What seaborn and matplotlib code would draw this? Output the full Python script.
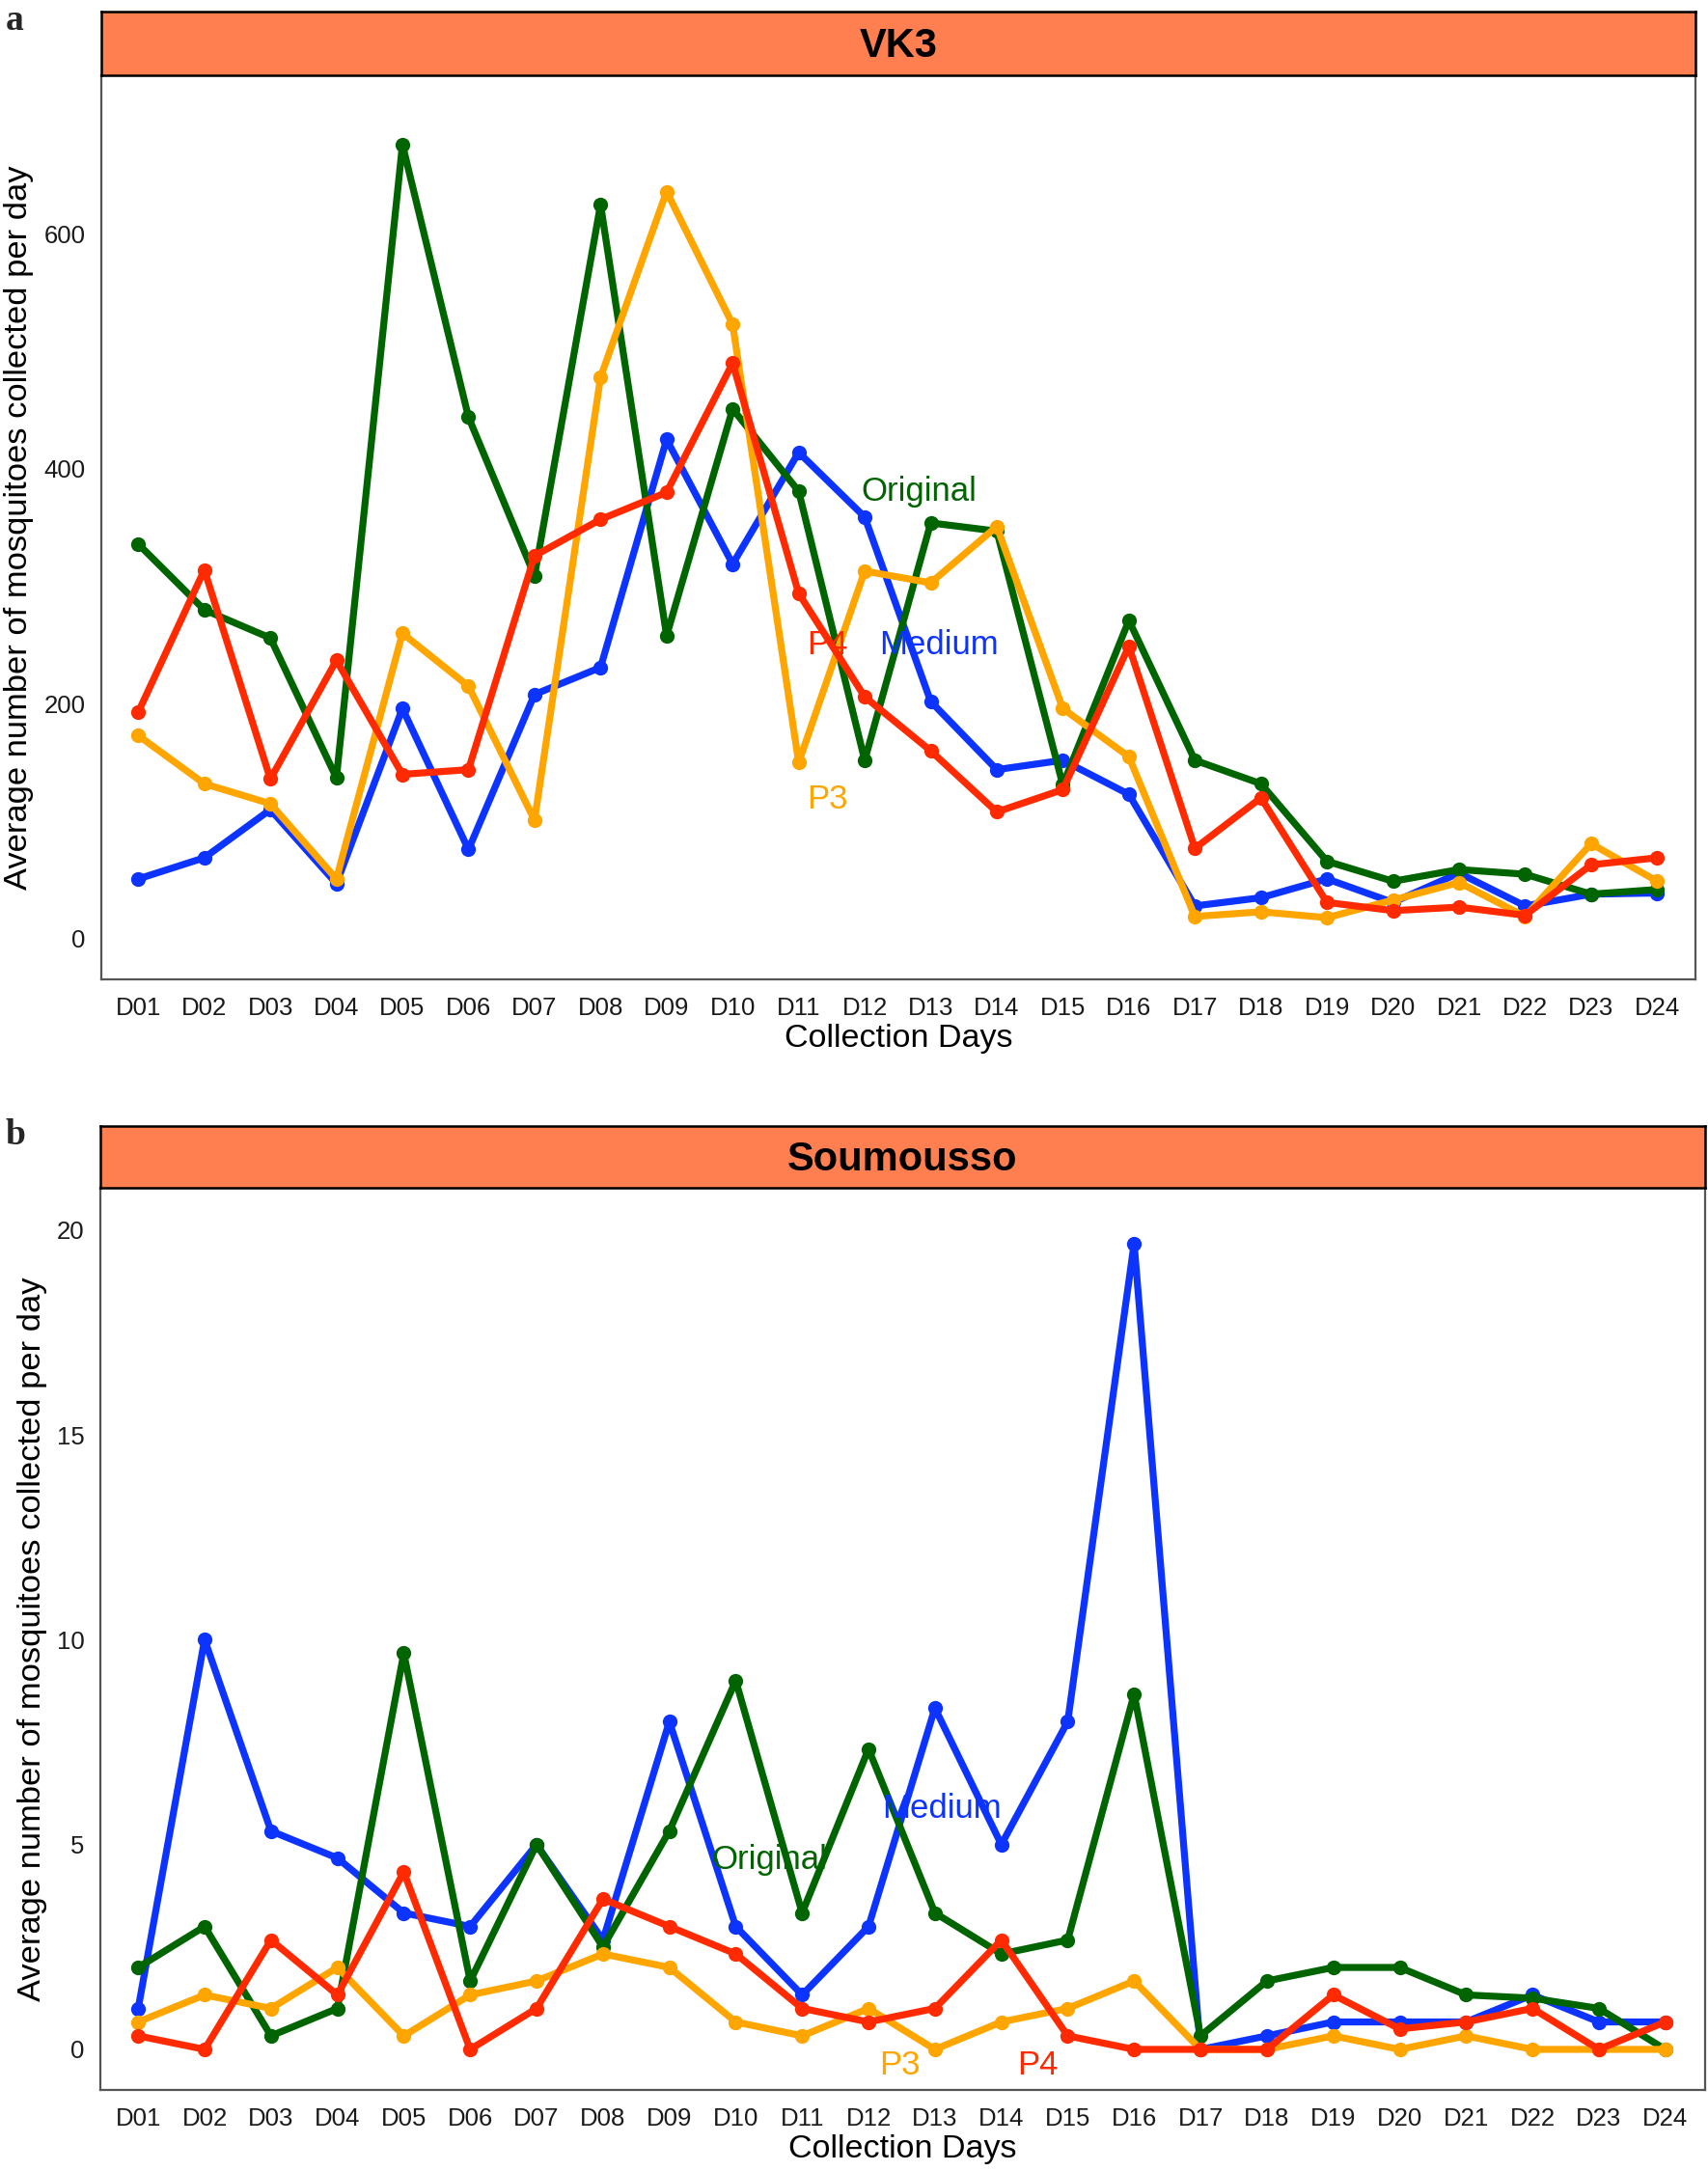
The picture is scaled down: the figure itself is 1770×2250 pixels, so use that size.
import matplotlib
matplotlib.use("Agg")
import matplotlib.pyplot as plt
import seaborn as sns
import pandas as pd

days = [f"D{i:02d}" for i in range(1, 25)]
groups = ["Medium", "Original", "P3", "P4"]
colors = {"Medium": "#0D33FF", "Original": "#006400", "P3": "#FFA500", "P4": "#FF2A00"}

# Panel a: VK3
vk3_medium = [51, 69, 110, 47, 196, 76, 208, 231, 425, 319, 414, 359, 202, 144, 152, 123, 28, 35, 51, 31, 56, 28, 38, 39]
vk3_original = [336, 280, 256, 137, 676, 444, 309, 625, 258, 451, 381, 152, 354, 347, 131, 271, 152, 132, 66, 49, 59, 55, 38, 42]
vk3_p3 = [173, 132, 115, 51, 260, 215, 101, 478, 636, 523, 150, 313, 303, 351, 196, 155, 19, 23, 18, 33, 48, 19, 81, 49]
vk3_p4 = [193, 314, 136, 237, 140, 144, 326, 357, 380, 490, 294, 206, 160, 108, 127, 249, 77, 120, 31, 24, 27, 20, 63, 69]

# Panel b: Soumousso
sou_medium = [1, 10, 5.33, 4.67, 3.33, 3, 5, 2.67, 8, 3, 1.33, 3, 8.33, 5, 8, 19.67, 0, 0.33, 0.67, 0.67, 0.67, 1.33, 0.67, 0.67]
sou_original = [2, 3, 0.33, 1, 9.67, 1.67, 5, 2.5, 5.33, 9, 3.33, 7.33, 3.33, 2.33, 2.67, 8.67, 0.33, 1.67, 2, 2, 1.33, 1.25, 1, 0]
sou_p3 = [0.67, 1.33, 1, 2, 0.33, 1.33, 1.67, 2.33, 2, 0.67, 0.33, 1, 0, 0.67, 1, 1.67, 0, 0, 0.33, 0, 0.33, 0, 0, 0]
sou_p4 = [0.33, 0, 2.67, 1.33, 4.33, 0, 1, 3.67, 3, 2.33, 1, 0.67, 1, 2.67, 0.33, 0, 0, 0, 1.33, 0.5, 0.67, 1, 0, 0.67]

# direct labels (group, day index, value)
vk3_labels = [("Original", 11.82, 381), ("P4", 10.43, 250), ("Medium", 12.13, 250), ("P3", 10.43, 119)]
sou_labels = [("Original", 9.5, 4.63), ("Medium", 12.1, 5.88), ("P3", 11.47, -0.4), ("P4", 13.55, -0.4)]


def long_df(series):
    rows = []
    for g, vals in series.items():
        for i, v in enumerate(vals):
            rows.append({"day": i, "group": g, "value": v})
    return pd.DataFrame(rows)


sns.set_theme(style="white")
plt.rcParams["font.family"] = ["Liberation Sans", "DejaVu Sans"]

W, H = 1770, 2250
fig = plt.figure(figsize=(W / 100, H / 100), dpi=100)

panels = [
    dict(title="VK3", letter="a", left=105, right=1757, strip_top=12, top=78, bottom=1015,
         data={"Medium": vk3_medium, "Original": vk3_original, "P3": vk3_p3, "P4": vk3_p4},
         ylim=(-34.5, 735), yticks=[0, 200, 400, 600], labels=vk3_labels, xlim=(-0.56, 23.58)),
    dict(title="Soumousso", letter="b", left=104, right=1767, strip_top=1167, top=1231, bottom=2166,
         data={"Medium": sou_medium, "Original": sou_original, "P3": sou_p3, "P4": sou_p4},
         ylim=(-0.99, 21.03), yticks=[0, 5, 10, 15, 20], labels=sou_labels, xlim=(-0.57, 23.6)),
]

for p in panels:
    ax = fig.add_axes([p["left"] / W, 1 - p["bottom"] / H,
                       (p["right"] - p["left"]) / W, (p["bottom"] - p["top"]) / H])
    df = long_df(p["data"])
    sns.lineplot(data=df, x="day", y="value", hue="group", hue_order=groups,
                 palette=colors, marker="o", markersize=11, markeredgewidth=0,
                 linewidth=5.2, legend=False, ax=ax)
    ax.set_xlim(*p["xlim"])
    ax.set_ylim(*p["ylim"])
    ax.set_xticks(range(24))
    ax.set_xticklabels(days)
    ax.set_yticks(p["yticks"])
    ax.tick_params(axis="both", length=0, labelsize=18.5, colors="#1a1a1a")
    ax.tick_params(axis="x", pad=13)
    ax.tick_params(axis="y", pad=12)
    ax.set_xlabel("Collection Days", fontsize=24.5, color="black", labelpad=3)
    ax.set_ylabel("Average number of mosquitoes collected per day", fontsize=24.8,
                  color="black", labelpad=7)
    for s in ax.spines.values():
        s.set_color("#555555")
        s.set_linewidth(1.6)
    ax.grid(False)
    for g, xi, yv in p["labels"]:
        ax.text(xi, yv, g, color=colors[g], fontsize=25, ha="center", va="center")

    sax = fig.add_axes([p["left"] / W, 1 - p["top"] / H,
                        (p["right"] - p["left"]) / W, (p["top"] - p["strip_top"]) / H])
    sax.set_facecolor("#FF7F50")
    sax.set_xticks([])
    sax.set_yticks([])
    for s in sax.spines.values():
        s.set_color("black")
        s.set_linewidth(1.8)
    sax.text(0.5, 0.45, p["title"], transform=sax.transAxes, ha="center", va="center",
             fontsize=30, fontweight="bold", color="black")

    fig.text(6 / W, 1 - (p["strip_top"] - 8) / H, p["letter"], ha="left", va="top",
             fontsize=27, fontweight="bold", family=["Liberation Serif", "DejaVu Serif"])

fig.savefig("out.png", dpi=100, facecolor="white")
